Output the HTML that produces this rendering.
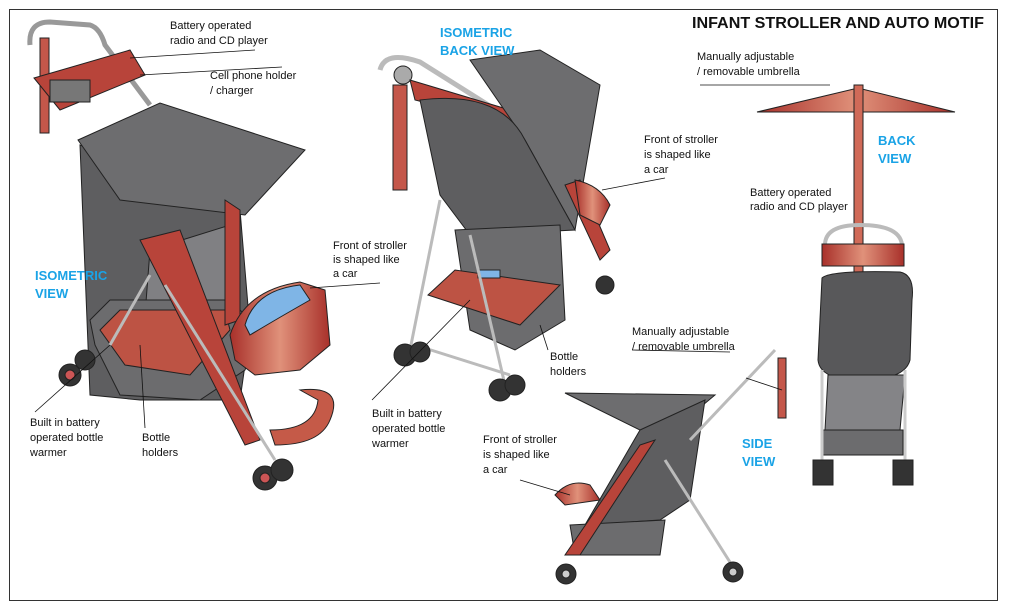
<!DOCTYPE html>
<html><head><meta charset="utf-8"><style>
html,body{margin:0;padding:0;background:#fff;}
svg{display:block;}
text{font-family:"Liberation Sans",sans-serif;}
.l{font-size:11px;fill:#111;}
.b{font-size:13px;font-weight:bold;fill:#1aa3e6;}
</style></head><body>
<svg width="1009" height="612" viewBox="0 0 1009 612" xmlns="http://www.w3.org/2000/svg">
<defs>
<linearGradient id="rg" x1="0" x2="1"><stop offset="0" stop-color="#a8302a"/><stop offset=".5" stop-color="#e0917a"/><stop offset="1" stop-color="#a8302a"/></linearGradient>
</defs>
<rect x="9.5" y="9.5" width="988" height="591" fill="#fff" stroke="#333" stroke-width="1"/>
<text x="692" y="28" font-size="16" font-weight="bold" fill="#111" textLength="292" lengthAdjust="spacingAndGlyphs">INFANT STROLLER AND AUTO MOTIF</text>

<!-- ===== Stroller 1 (isometric) ===== -->
<g stroke="#222" stroke-width="1">
<path d="M30,45 Q28,22 50,22 L90,25 Q100,28 105,45 L150,105" fill="none" stroke="#999" stroke-width="5"/>
<rect x="40" y="38" width="9" height="95" fill="#c4574a"/>
<path d="M34,78 L130,50 L145,75 L60,110 Z" fill="#b8443a"/>
<rect x="50" y="80" width="40" height="22" fill="#777"/>
<path d="M80,145 L90,395 L140,400 L240,400 L250,330 L240,210 Z" fill="#5e5e60"/>
<path d="M78,140 L160,103 L305,150 L245,215 L120,200 Z" fill="#6d6d6f"/>
<path d="M140,380 L150,250 L230,225 L240,330 Z" fill="#808083"/>
<path d="M90,320 L110,300 L230,300 L260,330 L245,370 L200,400 L120,395 L95,345 Z" fill="#6c6c6e"/>
<path d="M100,330 L120,310 L225,310 L230,330 L190,375 L125,365 Z" fill="#bd5344"/>
<path d="M140,240 L180,230 L260,440 L245,445 Z" fill="#b8443a"/>
<path d="M225,200 L240,210 L240,320 L225,325 Z" fill="#b8443a"/>
<path d="M230,335 Q245,290 300,282 L325,290 L330,345 L300,370 L255,375 L235,360 Z" fill="url(#rg)"/>
<path d="M245,325 Q255,290 300,285 L310,300 Q275,320 250,335 Z" fill="#7fb5e6"/>
<path d="M300,390 Q345,385 330,420 Q320,445 275,445 L270,430 Q315,430 318,400 Z" fill="#c55a48"/>
<line x1="150" y1="275" x2="110" y2="345" stroke="#bbb" stroke-width="3"/>
<line x1="165" y1="285" x2="275" y2="460" stroke="#bbb" stroke-width="3"/>
<circle cx="70" cy="375" r="11" fill="#333"/><circle cx="70" cy="375" r="5" fill="#c55"/>
<circle cx="85" cy="360" r="10" fill="#333"/>
<circle cx="265" cy="478" r="12" fill="#333"/><circle cx="265" cy="478" r="5" fill="#c55"/>
<circle cx="282" cy="470" r="11" fill="#333"/>
</g>
<g stroke="#111" stroke-width="0.8">
<line x1="130" y1="58" x2="255" y2="50"/><line x1="140" y1="75" x2="282" y2="67"/>
<line x1="310" y1="288" x2="380" y2="283"/>
<line x1="35" y1="412" x2="110" y2="345"/><line x1="145" y1="428" x2="140" y2="345"/>
</g>
<text class="l" x="170" y="29">Battery operated</text><text class="l" x="170" y="44">radio and CD player</text>
<text class="l" x="210" y="79">Cell phone holder</text><text class="l" x="210" y="94">/ charger</text>
<text class="l" x="333" y="249">Front of stroller</text><text class="l" x="333" y="263">is shaped like</text><text class="l" x="333" y="277">a car</text>
<text class="b" x="35" y="280">ISOMETRIC</text><text class="b" x="35" y="298">VIEW</text>
<text class="l" x="30" y="426">Built in  battery</text><text class="l" x="30" y="441">operated bottle</text><text class="l" x="30" y="456">warmer</text>
<text class="l" x="142" y="441">Bottle</text><text class="l" x="142" y="456">holders</text>

<!-- ===== Stroller 2 (back) ===== -->
<g stroke="#222" stroke-width="1">
<path d="M380,70 Q385,50 420,62 L520,125" fill="none" stroke="#bbb" stroke-width="5"/>
<rect x="393" y="85" width="14" height="105" fill="#c4574a"/>
<circle cx="403" cy="75" r="9" fill="#aaa"/>
<path d="M410,80 L510,110 L515,125 L415,100 Z" fill="#b8443a"/>
<path d="M470,60 L540,50 L600,85 L575,230 L525,140 Z" fill="#6d6d6f"/>
<path d="M420,100 Q500,90 525,140 L575,230 L470,235 L440,195 Z" fill="#5e5e60"/>
<path d="M455,230 L560,225 L565,320 L515,350 L470,330 Z" fill="#6c6c6e"/>
<path d="M428,295 L455,270 L560,285 L520,325 Z" fill="#bd5344"/>
<rect x="478" y="270" width="22" height="8" fill="#7fb5e6"/>
<path d="M565,185 L580,180 L610,250 L600,260 Z" fill="#b8443a"/>
<path d="M575,180 Q600,185 610,205 L600,225 L580,215 Z" fill="url(#rg)"/>
<line x1="440" y1="200" x2="410" y2="350" stroke="#bbb" stroke-width="3"/>
<line x1="470" y1="235" x2="505" y2="385" stroke="#bbb" stroke-width="3"/>
<line x1="415" y1="345" x2="510" y2="375" stroke="#bbb" stroke-width="3"/>
<circle cx="405" cy="355" r="11" fill="#333"/><circle cx="420" cy="352" r="10" fill="#333"/>
<circle cx="500" cy="390" r="11" fill="#333"/><circle cx="515" cy="385" r="10" fill="#333"/>
<circle cx="605" cy="285" r="9" fill="#333"/>
</g>
<g stroke="#111" stroke-width="0.8">
<line x1="602" y1="190" x2="665" y2="178"/><line x1="540" y1="325" x2="548" y2="350"/><line x1="372" y1="400" x2="470" y2="300"/>
</g>
<text class="b" x="440" y="37">ISOMETRIC</text><text class="b" x="440" y="55">BACK VIEW</text>
<text class="l" x="644" y="143">Front of stroller</text><text class="l" x="644" y="158">is shaped like</text><text class="l" x="644" y="173">a car</text>
<text class="l" x="550" y="360">Bottle</text><text class="l" x="550" y="375">holders</text>
<text class="l" x="372" y="417">Built in  battery</text><text class="l" x="372" y="432">operated bottle</text><text class="l" x="372" y="447">warmer</text>

<!-- ===== Back view ===== -->
<g stroke="#222" stroke-width="1">
<path d="M757,112 L858,88 L955,112 Z" fill="url(#rg)"/>
<rect x="854" y="85" width="9" height="215" fill="#d06a58"/>
<path d="M825,245 Q825,225 860,225 Q900,225 902,245" fill="none" stroke="#bbb" stroke-width="4"/>
<rect x="822" y="244" width="82" height="22" fill="url(#rg)"/>
<path d="M822,278 Q830,270 900,272 Q915,275 912,300 L910,360 Q905,380 860,380 Q820,380 818,360 Z" fill="#58585a"/>
<path d="M828,375 L905,375 L900,430 L825,430 Z" fill="#848487"/>
<rect x="823" y="430" width="80" height="25" fill="#6c6c6e"/>
<line x1="822" y1="370" x2="822" y2="460" stroke="#ccc" stroke-width="3"/>
<line x1="905" y1="370" x2="905" y2="460" stroke="#ccc" stroke-width="3"/>
<rect x="813" y="460" width="20" height="25" fill="#333"/><rect x="893" y="460" width="20" height="25" fill="#333"/>
</g>
<line x1="700" y1="85" x2="830" y2="85" stroke="#111" stroke-width="0.8"/>
<text class="l" x="697" y="60">Manually adjustable</text><text class="l" x="697" y="75">/ removable umbrella</text>
<text class="b" x="878" y="145">BACK</text><text class="b" x="878" y="163">VIEW</text>
<text class="l" x="750" y="196">Battery operated</text><text class="l" x="750" y="210">radio and CD player</text>

<!-- ===== Side view ===== -->
<g stroke="#222" stroke-width="1">
<path d="M565,393 L715,395 L655,445 L640,430 Z" fill="#6d6d6f"/>
<path d="M640,430 L705,400 L690,500 L660,520 L585,525 Z" fill="#5e5e60"/>
<path d="M570,525 L665,520 L660,555 L575,555 Z" fill="#6c6c6e"/>
<path d="M640,445 L655,440 L580,555 L565,555 Z" fill="#b8443a"/>
<line x1="665" y1="460" x2="735" y2="570" stroke="#bbb" stroke-width="3"/>
<line x1="690" y1="440" x2="775" y2="350" stroke="#bbb" stroke-width="3"/>
<rect x="778" y="358" width="8" height="60" fill="#c4574a"/>
<path d="M555,495 Q570,478 590,485 L600,500 L565,505 Z" fill="url(#rg)"/>
<circle cx="566" cy="574" r="10" fill="#333"/><circle cx="566" cy="574" r="4" fill="#ccc"/>
<circle cx="733" cy="572" r="10" fill="#333"/><circle cx="733" cy="572" r="4" fill="#ccc"/>
</g>
<g stroke="#111" stroke-width="0.8">
<line x1="632" y1="350" x2="730" y2="352"/><line x1="746" y1="378" x2="782" y2="390"/><line x1="520" y1="480" x2="570" y2="495"/>
</g>
<text class="l" x="632" y="335">Manually adjustable</text><text class="l" x="632" y="350">/ removable umbrella</text>
<text class="b" x="742" y="448">SIDE</text><text class="b" x="742" y="466">VIEW</text>
<text class="l" x="483" y="443">Front of stroller</text><text class="l" x="483" y="458">is shaped like</text><text class="l" x="483" y="473">a car</text>
</svg>
</body></html>
